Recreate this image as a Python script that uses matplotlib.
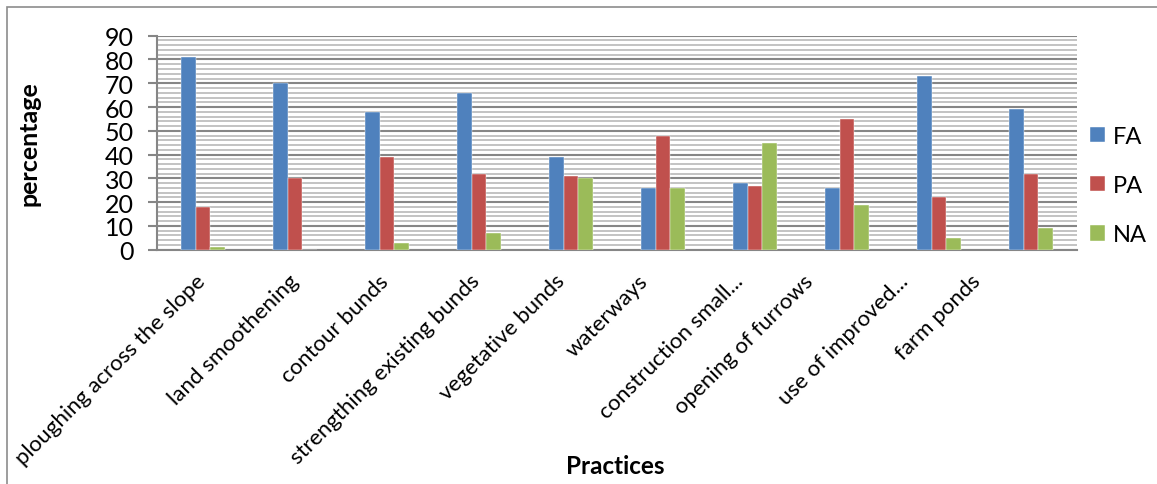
import matplotlib
matplotlib.use("Agg")
import matplotlib.pyplot as plt
import matplotlib.transforms as mtransforms
from matplotlib.patches import Rectangle
from matplotlib.ticker import MultipleLocator
import numpy as np

plt.rcParams['font.family'] = ['Lato', 'DejaVu Sans']

categories = ["ploughing across the slope", "land smoothening", "contour bunds",
              "strengthing existing bunds", "vegetative bunds", "waterways",
              "construction small...", "opening of furrows", "use of improved...",
              "farm ponds"]
fa = [81, 70, 58, 66, 39, 26, 28, 26, 73, 59]
pa = [18, 30, 39, 32, 31, 48, 27, 55, 22, 32]
na = [1, 0, 3, 7, 30, 26, 45, 19, 5, 9]
series_names = ["FA", "PA", "NA"]
colors = ["#4F81BD", "#C0504D", "#9BBB59"]

W, H = 1157, 485
fig = plt.figure(figsize=(W / 100, H / 100), dpi=100)
ax = fig.add_axes([157 / W, 1 - 250.7 / H, (1077 - 157) / W, (250.7 - 36.7) / H])

x = np.arange(len(categories))
bw = 0.163
for i, (vals, c, nm) in enumerate(zip([fa, pa, na], colors, series_names)):
    ax.bar(x + (i - 1) * bw, vals, width=bw, color=c, label=nm, zorder=3,
           edgecolor='white', linewidth=0.3)

ax.set_xlim(-0.5, len(categories) - 0.5)
ax.set_ylim(0, 90)
ax.yaxis.set_major_locator(MultipleLocator(10))
ax.yaxis.set_minor_locator(MultipleLocator(2))
ax.grid(axis='y', which='major', color='#868686', linewidth=1.5, zorder=1)
ax.grid(axis='y', which='minor', color='#c3c3c3', linewidth=1.4, zorder=0)
ax.set_axisbelow(True)

for s in ['top', 'right']:
    ax.spines[s].set_visible(False)
ax.spines['left'].set_color('#868686')
ax.spines['left'].set_linewidth(1.5)
ax.spines['bottom'].set_color('#868686')
ax.spines['bottom'].set_linewidth(1.5)

ax.tick_params(axis='y', which='major', length=6.5, width=1.5, color='#868686',
               labelsize=18, pad=10)
ax.tick_params(axis='y', which='minor', length=0)
ax.tick_params(axis='x', length=0, labelsize=16, pad=15)

ax.set_xticks(x)
ax.set_xticklabels(categories, rotation=45, ha='right', rotation_mode='anchor')
label_shift_px = [-8, -7, -9, -9, -16, -25, -22, -44, -41, -61]
for lbl, dx in zip(ax.get_xticklabels(), label_shift_px):
    lbl.set_transform(lbl.get_transform() +
                      mtransforms.ScaledTranslation(dx / 100, 0, fig.dpi_scale_trans))

ax.set_ylabel("percentage", fontsize=18, fontweight='bold')
ax.yaxis.set_label_coords((41 - 157) / 920, 0.5)
fig.text(615 / W, 1 - 467 / H, "Practices", fontsize=17.5, fontweight='bold',
         ha='center', va='center')

leg = ax.legend(loc='center left', bbox_to_anchor=(1.0, 0.30), frameon=False,
                fontsize=17, handlelength=0.62, handleheight=0.62,
                labelspacing=1.2, handletextpad=0.35, borderaxespad=0.15)

fig.patches.append(Rectangle((7 / W, -0.1), 1.2, 1 - 8 / H + 0.1,
                             transform=fig.transFigure, fill=False,
                             edgecolor='#8c8c8c', linewidth=1.2))

fig.savefig("out.png", dpi=100)
